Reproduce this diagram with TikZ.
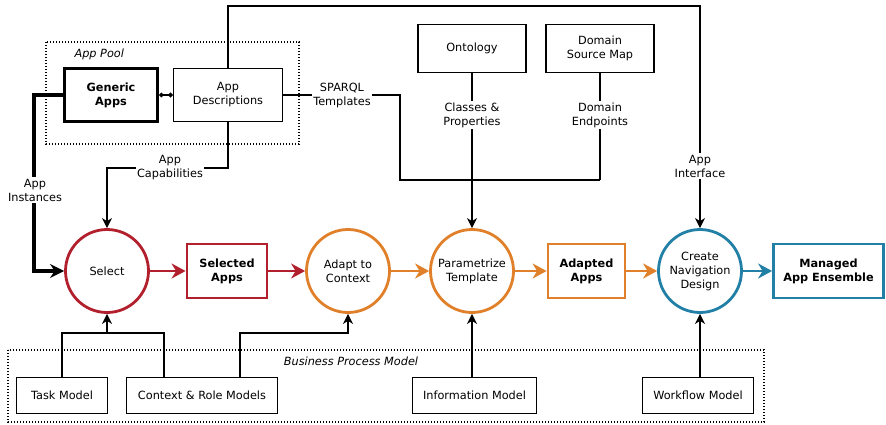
\documentclass[tikz,border=0pt]{standalone}
\usepackage{fontspec}
\setmainfont{DejaVu Sans}
\usetikzlibrary{arrows.meta}
\definecolor{cred}{RGB}{178,32,46}
\definecolor{corange}{RGB}{224,128,42}
\definecolor{cblue}{RGB}{34,128,166}
\newcommand{\dfont}{\fontsize{11.3}{14}\selectfont}
\begin{document}
\begin{tikzpicture}[x=1pt,y=-1pt,
  font=\dfont,
  box/.style={draw, line width=1.5pt, align=center, inner sep=0pt},
  proc/.style={draw, circle, line width=2.8pt, align=center, inner sep=0pt, minimum size=83pt},
  result/.style={draw, line width=2.8pt, align=center, inner sep=0pt, font=\dfont\bfseries},
  flow/.style={line width=1.5pt},
  inarrow/.style={flow, -{Stealth[length=10pt,width=10pt,inset=3pt]}},
  mainarrow/.style={line width=2.8pt, -{Stealth[length=14pt,width=15pt,inset=4.5pt]}},
  lbl/.style={fill=white, align=center, inner sep=1.5pt},
  pool/.style={line width=1.3pt, dash pattern=on 1.2pt off 1.8pt}
]
\useasboundingbox (0,0) rectangle (886,424);

% grouping frames
\draw[pool] (46,42) rectangle (299,144);
\node[anchor=west, font=\dfont\itshape] (poollbl) at (71,54) {App Pool};
\draw[pool] (8,350) rectangle (764,422);
\node[font=\dfont\itshape] (bpmlbl) at (351,361) {Business Process Model};

% sources
\node[box, line width=3.2pt, font=\dfont\bfseries, minimum width=93pt, minimum height=53pt] (gen) at (111,95) {Generic\\Apps};
\node[box, minimum width=109pt, minimum height=53pt] (desc) at (228,95) {App\\Descriptions};
\node[box, minimum width=108pt, minimum height=48pt] (onto) at (472,48.5) {Ontology};
\node[box, minimum width=108pt, minimum height=48pt] (dsm) at (600,48.5) {Domain\\Source Map};

% process chain
\node[proc, draw=cred] (sel) at (107,271) {Select};
\node[result, draw=cred, minimum width=80pt, minimum height=54pt] (selapps) at (227,271) {Selected\\Apps};
\node[proc, draw=corange] (adapt) at (348,271) {Adapt to\\Context};
\node[proc, draw=corange] (param) at (472,271) {Parametrize\\Template};
\node[result, draw=corange, minimum width=77pt, minimum height=54pt] (adapted) at (586.5,271) {Adapted\\Apps};
\node[proc, draw=cblue] (create) at (700,271) {Create\\Navigation\\Design};
\node[result, draw=cblue, minimum width=110pt, minimum height=54pt] (managed) at (828.5,271) {Managed\\App Ensemble};

% business process models
\node[box, minimum width=91pt, minimum height=36pt] (task) at (62,395.5) {Task Model};
\node[box, minimum width=151pt, minimum height=36pt] (ctx) at (202,395.5) {Context \& Role Models};
\node[box, minimum width=124pt, minimum height=36pt] (info) at (474.5,395.5) {Information Model};
\node[box, minimum width=111pt, minimum height=36pt] (wf) at (698,395.5) {Workflow Model};

% main flow
\draw[mainarrow, cred] (sel) -- (selapps);
\draw[mainarrow, cred] (selapps) -- (adapt);
\draw[mainarrow, corange] (adapt) -- (param);
\draw[mainarrow, corange] (param) -- (adapted);
\draw[mainarrow, corange] (adapted) -- (create);
\draw[mainarrow, cblue] (create) -- (managed);

% generic apps linked to their descriptions
\draw[flow, {Circle[length=4.5pt]}-{Circle[length=4.5pt]}] (gen.east) -- (desc.west);

% app instances
\draw[line width=3.2pt, -{Stealth[length=14pt,width=14pt,inset=4.5pt]}] (gen.west) -- ++(-29,0) |- (sel.west);
\node[lbl] (instl) at (35,190) {App\\Instances};

% app capabilities
\coordinate (capturn) at (228,168);
\draw[inarrow] (desc.south) -- (capturn) -| (sel.north);
\node[lbl] (capl) at (170,168) {App\\Capabilities};

% app interface
\coordinate (ifturn) at (228,6);
\draw[inarrow] (desc.north) -- (ifturn) -| (create.north);
\node[lbl] (ifl) at (700,166) {App\\Interface};

% templates, vocabulary and endpoints
\coordinate (spturn) at (400,95);
\coordinate (spjoin) at (400,180);
\coordinate (dejoin) at (600,180);
\draw[flow] (desc.east) -- (spturn) -- (spjoin) -- (dejoin);
\draw[flow] (dsm.south) -- (dejoin);
\draw[inarrow] (onto.south) -- (param.north);
\node[lbl] (spl) at (342,95) {SPARQL\\Templates};
\node[lbl] (cpl) at (472,115) {Classes \&\\Properties};
\node[lbl] (del) at (600,115) {Domain\\Endpoints};

% business process inputs
\coordinate (tk) at (62,333);
\coordinate (cx) at (164,333);
\coordinate (selin) at (107,333);
\coordinate (cx2) at (240,333);
\draw[flow] (task.north) -- (tk) -- (cx) -- (ctx.north -| cx);
\draw[inarrow] (selin) -- (sel.south);
\draw[inarrow] (ctx.north -| cx2) -- (cx2) -| (adapt.south);
\draw[inarrow] (info.north -| param) -- (param.south);
\draw[inarrow] (wf.north -| create) -- (create.south);
\end{tikzpicture}
\end{document}
